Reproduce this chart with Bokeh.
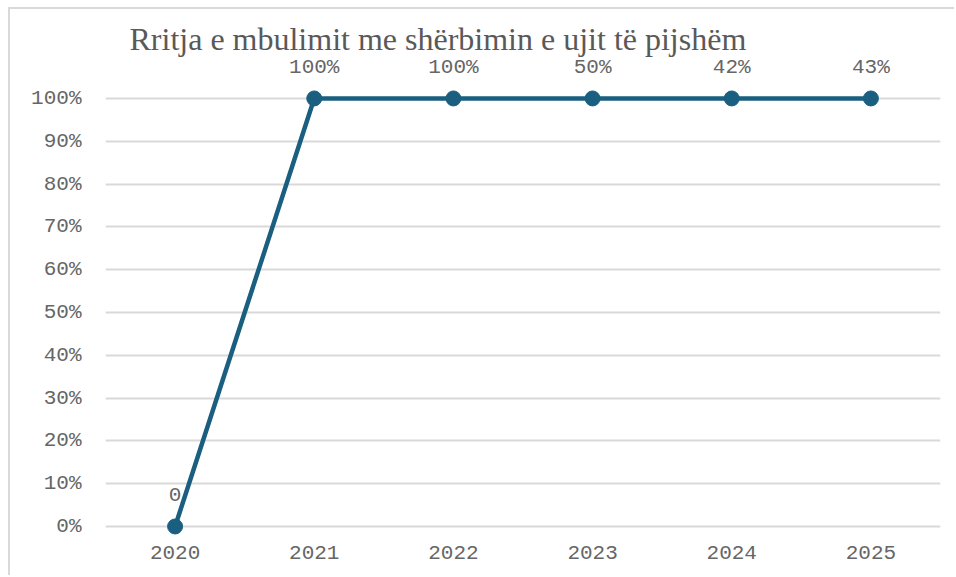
from bokeh.plotting import figure
from bokeh.models import ColumnDataSource, LabelSet, FixedTicker, Range1d, FactorRange
from bokeh.core.properties import value
from bokeh.embed import file_html
from bokeh.resources import INLINE

years = ["2020", "2021", "2022", "2023", "2024", "2025"]
coverage = [0, 100, 100, 100, 100, 100]
point_labels = ["0", "100%", "100%", "50%", "42%", "43%"]
y_ticks = [0, 10, 20, 30, 40, 50, 60, 70, 80, 90, 100]
y_tick_labels = ["0%", "10%", "20%", "30%", "40%", "50%", "60%", "70%", "80%", "90%", "100%"]
title_text = "Rritja e mbulimit me shërbimin e ujit të pijshëm"

LINE_COLOR = "#1a5f80"
TEXT_COLOR = "#666666"
TITLE_COLOR = "#595959"
GRID_COLOR = "#d9d9d9"
MONO = "Liberation Mono"

src = ColumnDataSource(dict(x=years, y=coverage, lbl=point_labels))

p = figure(
    x_range=FactorRange(*years, range_padding=0),
    y_range=Range1d(-3.04, 109.8),
    width=946, height=568,
    output_backend="svg", toolbar_location=None,
    min_border_left=95, min_border_right=16,
    min_border_top=47, min_border_bottom=38,
)
p.margin = (7, 0, 0, 8)
p.styles = {"border-left": "2px solid #d9d9d9", "border-top": "2px solid #d9d9d9"}

p.title.text = title_text
p.title.text_font = "Liberation Serif"
p.title.text_font_size = "32px"
p.title.text_font_style = "normal"
p.title.text_color = TITLE_COLOR
p.title.align = "left"
p.title.offset = 24
p.title.standoff = 0

p.outline_line_color = None
p.xgrid.grid_line_color = None
p.ygrid.grid_line_color = GRID_COLOR
p.ygrid.grid_line_width = 2

p.yaxis.ticker = FixedTicker(ticks=y_ticks)
p.yaxis.major_label_overrides = {t: l for t, l in zip(y_ticks, y_tick_labels)}
for ax in (p.xaxis[0], p.yaxis[0]):
    ax.axis_line_color = None
    ax.major_tick_line_color = None
    ax.minor_tick_line_color = None
    ax.major_label_text_font = MONO
    ax.major_label_text_font_size = "21px"
    ax.major_label_text_color = TEXT_COLOR
p.yaxis.major_label_standoff = 18
p.xaxis.major_label_standoff = 0

p.line("x", "y", source=src, line_color=LINE_COLOR, line_width=4.5)
p.scatter("x", "y", source=src, size=15, fill_color=LINE_COLOR, line_color=LINE_COLOR)

labels = LabelSet(x="x", y="y", text="lbl", source=src, y_offset=25,
                  text_align="center", text_baseline="alphabetic",
                  text_font=value(MONO), text_font_size=value("21px"),
                  text_color=TEXT_COLOR)
p.add_layout(labels)

open("out.html", "w").write(file_html(p, INLINE))
